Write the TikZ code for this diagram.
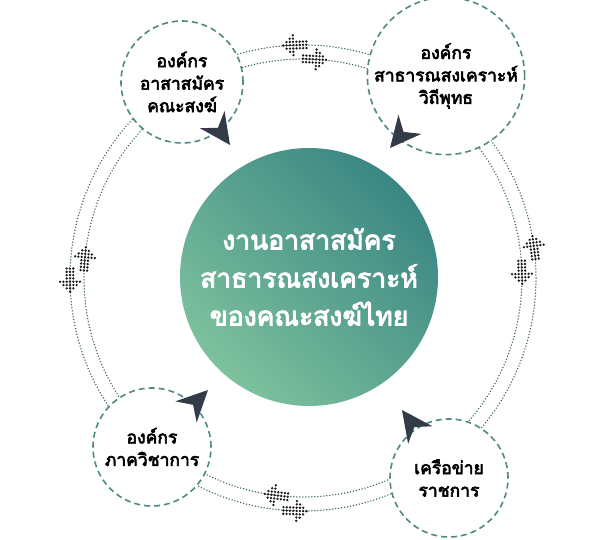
\documentclass[tikz,border=0pt]{standalone}
\usepackage{fontspec}
\usetikzlibrary{calc}
\newfontfamily\thaifont[Script=Thai, FakeBold=3.5]{Loma}
\definecolor{ringline}{HTML}{2F5A55}
\definecolor{dashteal}{HTML}{4E8A83}
\definecolor{navhead}{HTML}{343B48}
\definecolor{hubdark}{HTML}{3A8683}
\definecolor{hublight}{HTML}{7DC19D}
\definecolor{dotink}{HTML}{1A1A1A}

\begin{document}
\begin{tikzpicture}[x=1pt, y=1pt,
    hub/.style={circle, minimum size=258pt, inner sep=0pt, top color=hublight, bottom color=hubdark, shading angle=135, text=white, align=center, font=\thaifont\fontsize{26.5}{38}\selectfont},
    org/.style={circle, draw=dashteal, line width=1.6pt, dash pattern=on 6pt off 4pt, fill=white, inner sep=0pt, align=center, font=\thaifont\fontsize{17.5}{22.5}\selectfont},
    ringarc/.style={draw=ringline, line width=1.5pt, dash pattern=on 0pt off 3pt, line cap=round},
    navtip/.pic={\fill[navhead] (0,0) -- (-31,15) -- (-21,0) -- (-31,-15) -- cycle;},
    dotarrow/.pic={
        \foreach \c in {0,...,3} \foreach \r in {-1,0,1} \fill[dotink] (\c*3.3-11.5,\r*3.3) circle (1.3);
        \foreach \c/\h in {4/3,5/2,6/1,7/0} \foreach \r in {-\h,...,\h} \fill[dotink] (\c*3.3-11.5,\r*3.3) circle (1.3);
    }
]
\useasboundingbox (0,0) rectangle (600,539);

% double ring round the hub
\coordinate (ring) at (303,261);
\draw[ringarc] (ring) circle (233);
\draw[ringarc] (ring) circle (219);

\node[org, minimum size=122pt] (volorg) at (182,457) {องค์กร\\อาสาสมัคร\\คณะสงฆ์};
\node[org, minimum size=144pt] (welfare) at (446,463) {องค์กร\\สาธารณสงเคราะห์\\วิถีพุทธ};
\node[org, minimum size=118pt] (academic) at (152,92) {องค์กร\\ภาควิชาการ};
\node[org, minimum size=118pt] (govnet) at (449,61) {เครือข่าย\\ราชการ};

\node[hub] (hub) at (309,262) {งานอาสาสมัคร\\สาธารณสงเคราะห์\\ของคณะสงฆ์ไทย};

% dot-matrix arrows, outer ring anticlockwise, inner ring clockwise
\foreach \a in {92,7.5,180.5,268}
    \pic[rotate=\a+90] at ($(ring)+(\a:233)$) {dotarrow};
\foreach \a in {87,1.5,175,263}
    \pic[rotate=\a-90] at ($(ring)+(\a:219)$) {dotarrow};

% heads pointing at the hub
\pic[rotate=-55] at (230,394) {navtip};
\pic[rotate=230] at (390,391) {navtip};
\pic[rotate=45] at (208,149) {navtip};
\pic[rotate=126] at (402,129) {navtip};
\end{tikzpicture}
\end{document}
